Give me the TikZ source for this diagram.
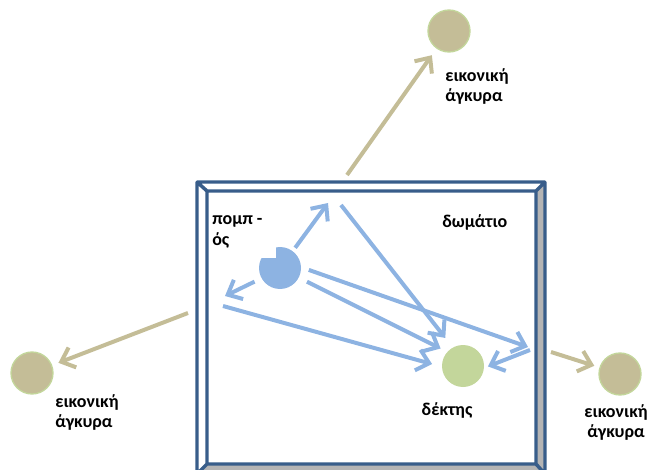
\documentclass[tikz,border=0pt]{standalone}
\usepackage{fontspec}
\setmainfont{Carlito}
\usetikzlibrary{arrows.meta}
\definecolor{raycol}{HTML}{8DB3E2}
\definecolor{tancol}{HTML}{C4BD97}
\definecolor{greencol}{HTML}{C3D69B}
\definecolor{framecol}{HTML}{385D8A}
\definecolor{bevelcol}{HTML}{B4B4B4}
\tikzset{ray/.style = {draw=raycol, line width=3pt,
                       -{Straight Barb[length=9pt,width=16pt]}},
         mirror/.style = {draw=tancol, line width=3pt,
                          -{Straight Barb[length=9pt,width=16pt]}},
         virt/.style = {circle, fill=tancol, draw=greencol, line width=1pt,
                        minimum size=31.5pt, inner sep=0pt},
         lbl/.style = {font=\fontsize{13.5}{15}\selectfont\bfseries, inner sep=0pt}}

\begin{document}
\begin{tikzpicture}[x=0.75pt, y=-0.75pt]
    \useasboundingbox (0, 0) rectangle (649, 470);

    % room walls
    \fill [white] (197, 182) -- (545, 182) -- (536, 191) -- (207, 191) -- cycle;
    \fill [white] (197, 182) -- (207, 191) -- (207, 464) -- (197, 474) -- cycle;
    \fill [bevelcol] (545, 182) -- (545, 474) -- (536, 464) -- (536, 191) -- cycle;
    \fill [bevelcol] (197, 474) -- (545, 474) -- (536, 464) -- (207, 464) -- cycle;
    \draw [framecol, line width=2.6pt, line join=round]
        (197, 182) rectangle (545, 474) (207, 191) rectangle (536, 464)
        (197, 182) -- (207, 191) (545, 182) -- (536, 191)
        (545, 474) -- (536, 464) (197, 474) -- (207, 464);

    \node [lbl, anchor=base west] (room) at (442, 228) {δωμάτιο};

    % sender and receiver
    \node [circle, fill=raycol, minimum size=31.5pt, inner sep=0pt] (snd) at (280, 268) {};
    \fill [white] (255, 240) rectangle (276, 258);
    \node [lbl, anchor=base west, align=left] (sndlbl) at (212, 245) {πομπ -\\ός};
    \node [circle, fill=greencol, minimum size=31.5pt, inner sep=0pt] (rcv) at (463, 366) {};
    \node [lbl, anchor=base] (rcvlbl) at (447, 415) {δέκτης};

    % image anchors outside the room
    \node [virt] (vtop) at (449, 31) {};
    \node [virt] (vleft) at (32, 373) {};
    \node [virt] (vright) at (620, 374) {};
    \node [lbl, anchor=base west, align=left] (vtoplbl) at (445, 102) {εικονική\\άγκυρα};
    \node [lbl, anchor=base west, align=left] (vleftlbl) at (55, 427) {εικονική\\άγκυρα};
    \node [lbl, anchor=base, align=center] (vrightlbl) at (616, 437) {εικονική\\άγκυρα};

    % wall hit points
    \coordinate (t1) at (328, 203);
    \coordinate (t2) at (341, 205);
    \coordinate (l1) at (225, 296);
    \coordinate (l2) at (223, 306);
    \coordinate (r1) at (528, 347);
    \coordinate (r2) at (530, 350);
    \coordinate (m1) at (347, 175);
    \coordinate (m2) at (188, 313);
    \coordinate (m3) at (551, 352);

    % rays
    \draw [ray, shorten <=3pt] (snd.53) -- (t1);
    \draw [ray, shorten >=9pt] (t2) -- (rcv.119);
    \draw [ray, shorten <=5.7pt] (snd.209) -- (l1);
    \draw [ray, shorten >=7.5pt] (l2) -- (rcv.182);
    \draw [ray, shorten <=6.7pt, shorten >=5.5pt] (snd.333) -- (rcv.138);
    \draw [ray, shorten <=6pt] (snd.2) -- (r1);
    \draw [ray, shorten >=3pt] (r2) -- (rcv.355);

    \draw [mirror, shorten >=6pt] (m1) -- (vtop);
    \draw [mirror, shorten >=5pt] (m2) -- (vleft);
    \draw [mirror, shorten >=4pt] (m3) -- (vright);
\end{tikzpicture}
\end{document}
